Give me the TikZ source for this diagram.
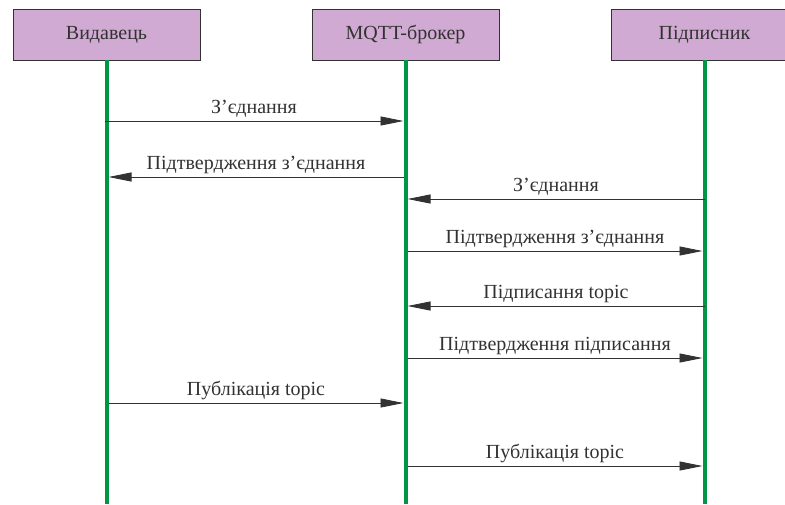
\documentclass[tikz,border=0pt]{standalone}
\usepackage{fontspec}
\setmainfont{Liberation Serif}
\newfontfamily\diagfont{Liberation Serif}
\usetikzlibrary{arrows.meta}
\definecolor{lilac}{RGB}{209,170,211}
\definecolor{lifegreen}{RGB}{0,150,68}
\definecolor{ink}{RGB}{50,50,50}
\tikzset{
	actor/.style={draw=ink,fill=lilac,minimum width=187pt,minimum height=51pt,inner sep=0pt,text=ink},
	life/.style={lifegreen,line width=4pt},
	msg/.style={ink,line width=0.8pt,-{Triangle[length=23pt,width=9pt]}},
	lbl/.style={above,inner sep=3pt,text=ink}
}
\begin{document}
\begin{tikzpicture}[x=1pt,y=-1pt,font=\diagfont\fontsize{20}{22}\selectfont]
	\clip (0,0) rectangle (785,504);
	\useasboundingbox (0,0) rectangle (785,504);

	%actors
	\node[actor] (pub) at (106.5,34.5) {Видавець};
	\node[actor] (brk) at (405.5,34.5) {MQTT-брокер};
	\node[actor] (sub) at (704.5,34.5) {Підписник};

	%lifelines
	\coordinate (pubend) at (106.5,504);
	\coordinate (brkend) at (405.5,504);
	\coordinate (subend) at (704.5,504);
	\draw[life] (pub) -- (pubend);
	\draw[life] (brk) -- (brkend);
	\draw[life] (sub) -- (subend);

	%message ends
	\coordinate (p1) at (104.5,121); \coordinate (b1) at (403.5,121); %connect 1
	\coordinate (p2) at (108.5,177); \coordinate (b2) at (403.5,177); %connack 1
	\coordinate (b3) at (407.5,199); \coordinate (s3) at (704.5,199); %connect 2
	\coordinate (b4) at (407.5,251); \coordinate (s4) at (702.5,251); %connack 2
	\coordinate (b5) at (407.5,306); \coordinate (s5) at (704.5,306); %subscribe
	\coordinate (b6) at (407.5,358); \coordinate (s6) at (702.5,358); %suback
	\coordinate (p7) at (108.5,403); \coordinate (b7) at (403.5,403); %publish 1
	\coordinate (b8) at (407.5,466); \coordinate (s8) at (702.5,466); %publish 2

	%messages
	\draw[msg] (p1) -- node[lbl] (m1) {З’єднання} (b1);
	\draw[msg] (b2) -- node[lbl] (m2) {Підтвердження з’єднання} (p2);
	\draw[msg] (s3) -- node[lbl] (m3) {З’єднання} (b3);
	\draw[msg] (b4) -- node[lbl] (m4) {Підтвердження з’єднання} (s4);
	\draw[msg] (s5) -- node[lbl] (m5) {Підписання topic} (b5);
	\draw[msg] (b6) -- node[lbl] (m6) {Підтвердження підписання} (s6);
	\draw[msg] (p7) -- node[lbl] (m7) {Публікація topic} (b7);
	\draw[msg] (b8) -- node[lbl] (m8) {Публікація topic} (s8);
\end{tikzpicture}
\end{document}
